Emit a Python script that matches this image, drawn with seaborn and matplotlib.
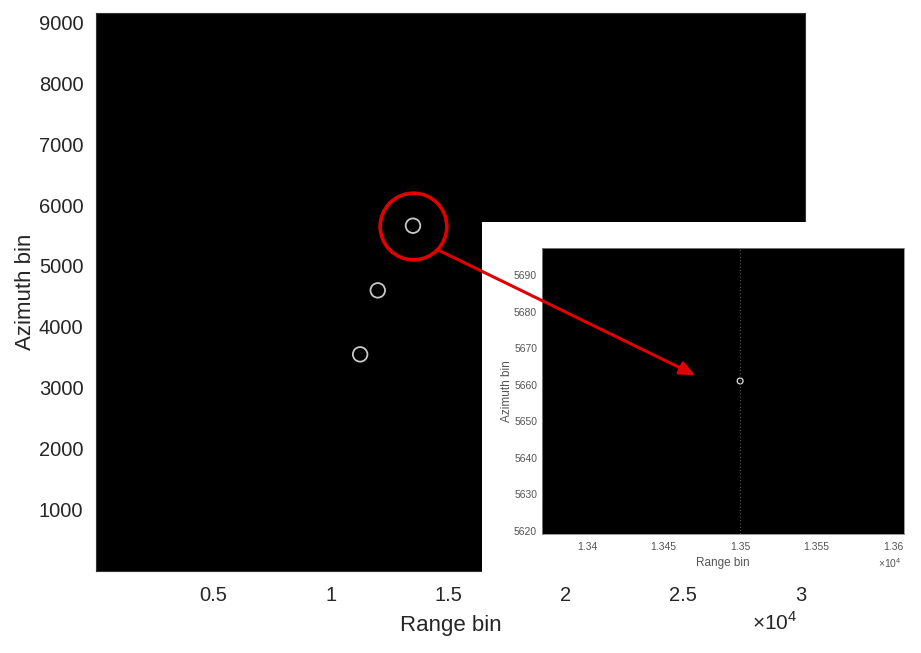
import numpy as np
import pandas as pd
import matplotlib
matplotlib.use("Agg")
import matplotlib.pyplot as plt
import seaborn as sns
from matplotlib.patches import ConnectionPatch, Rectangle

sns.set_style("white")
plt.rcParams["font.family"] = ["Liberation Sans", "DejaVu Sans"]
plt.rcParams["mathtext.fontset"] = "custom"
plt.rcParams["mathtext.rm"] = "Liberation Sans"

# alvos pontuais (range bin, azimuth bin)
range_bin = [11250, 12000, 13500]
azimuth_bin = [3550, 4600, 5661]

# zoom no alvo destacado
zoom_range = [13500]
zoom_az = [5661]

main_xticks = [5000, 10000, 15000, 20000, 25000, 30000]
main_xlabels = ["0.5", "1", "1.5", "2", "2.5", "3"]
main_yticks = [1000, 2000, 3000, 4000, 5000, 6000, 7000, 8000, 9000]
zoom_xticks = [13400, 13450, 13500, 13550, 13600]
zoom_xlabels = ["1.34", "1.345", "1.35", "1.355", "1.36"]
zoom_yticks = [5620, 5630, 5640, 5650, 5660, 5670, 5680, 5690]

txt = "#262626"
df = pd.DataFrame({"range": range_bin, "az": azimuth_bin})
dz = pd.DataFrame({"range": zoom_range, "az": zoom_az})

fig = plt.figure(figsize=(9.21, 6.53), dpi=100)
fig.patch.set_facecolor("white")

# ----------------------------------------
# imagem principal
# ----------------------------------------
ax = fig.add_axes([0.1042, 0.126, 0.770, 0.854])
ax.set_facecolor("black")
sns.scatterplot(data=df, x="range", y="az", ax=ax, marker="o", s=110,
                facecolor="none", edgecolor="#c8c8c8", linewidth=1.3, legend=False)
ax.plot(zoom_range, zoom_az, marker="o", markersize=48, markerfacecolor="none",
        markeredgecolor="#e00000", markeredgewidth=2.6, linestyle="none")
ax.set_xlim(0, 30200)
ax.set_ylim(0, 9150)
ax.set_xticks(main_xticks)
ax.set_xticklabels(main_xlabels)
ax.set_yticks(main_yticks)
ax.tick_params(direction="in", length=4, color="#333333", labelsize=14.5, labelcolor=txt)
ax.tick_params(axis="x", pad=11)
ax.tick_params(axis="y", pad=9)
ax.set_xlabel("Range bin", fontsize=16, color=txt, labelpad=7)
ax.set_ylabel("Azimuth bin", fontsize=16, color=txt, labelpad=2)
for sp in ax.spines.values():
    sp.set_color("#333333")
    sp.set_linewidth(0.8)
fig.text(0.817, 0.046, r"×10$^4$", fontsize=15, color=txt, ha="left", va="center", zorder=7)

# fundo branco do zoom
fig.patches.append(Rectangle((0.523, 0.112), 0.477, 0.548, transform=fig.transFigure,
                             facecolor="white", edgecolor="none", zorder=5))

# ----------------------------------------
# zoom
# ----------------------------------------
axz = fig.add_axes([0.5885, 0.1822, 0.393, 0.438], zorder=6)
axz.set_facecolor("black")
axz.axvline(zoom_range[0], color="#5a5a5a", linestyle=(0, (1, 2)), linewidth=0.8)
sns.scatterplot(data=dz, x="range", y="az", ax=axz, marker="o", s=18,
                facecolor="none", edgecolor="#e0e0e0", linewidth=0.9, legend=False)
axz.set_xlim(13370.6, 13607)
axz.set_ylim(5619.1, 5697.4)
axz.set_xticks(zoom_xticks)
axz.set_xticklabels(zoom_xlabels)
axz.set_yticks(zoom_yticks)
axz.tick_params(direction="in", length=3, color="#333333", labelsize=7.5, labelcolor="#555555")
axz.tick_params(axis="x", pad=6)
axz.set_xlabel("Range bin", fontsize=8.5, color="#555555", labelpad=3)
axz.set_ylabel("Azimuth bin", fontsize=8.5, color="#555555", labelpad=1)
for sp in axz.spines.values():
    sp.set_color("#888888")
    sp.set_linewidth(0.6)
fig.text(0.953, 0.138, r"×10$^4$", fontsize=7.5, color="#555555", ha="left", va="center", zorder=7)

# seta do alvo para o zoom
arrow = ConnectionPatch(xyA=(14617, 5254), coordsA=ax.transData,
                        xyB=(13470.6, 5662.6), coordsB=axz.transData,
                        arrowstyle="-|>,head_length=0.9,head_width=0.4",
                        color="#e00000", linewidth=2.2, zorder=10)
fig.add_artist(arrow)

fig.savefig("out.png", dpi=100)
